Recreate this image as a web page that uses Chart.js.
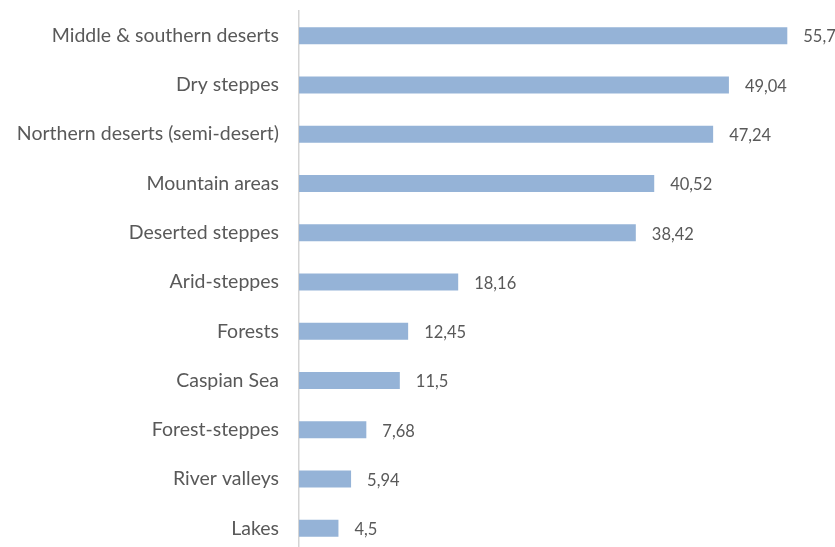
<!DOCTYPE html>
<html>
<head>
<meta charset="utf-8">
<script src="https://cdn.jsdelivr.net/npm/chart.js@4/dist/chart.umd.min.js"></script>
<style>
  html, body { margin: 0; padding: 0; background: #fff; }
  #frame { width: 835px; height: 547px; overflow: hidden; position: relative; }
  #box { width: 835px; height: 553px; position: absolute; left: 0; top: 0; }
</style>
</head>
<body>
<div id="frame"><div id="box"><canvas id="c"></canvas></div></div>
<script>
// Areas (top to bottom) and their values
const categories = [
  'Middle & southern deserts',
  'Dry steppes',
  'Northern deserts (semi-desert)',
  'Mountain areas',
  'Deserted steppes',
  'Arid-steppes',
  'Forests',
  'Caspian Sea',
  'Forest-steppes',
  'River valleys',
  'Lakes'
];
const values = [55.7, 49.04, 47.24, 40.52, 38.42, 18.16, 12.45, 11.5, 7.68, 5.94, 4.5];

const textColor = '#595959';
const fontFamily = 'Lato, "Open Sans", sans-serif';

// Writes each bar's value just past its end, with a decimal comma
const valueLabels = {
  id: 'valueLabels',
  afterDatasetsDraw(chart) {
    const ctx = chart.ctx;
    const meta = chart.getDatasetMeta(0);
    ctx.save();
    ctx.font = '16.5px ' + fontFamily;
    ctx.fillStyle = textColor;
    ctx.textAlign = 'left';
    ctx.textBaseline = 'middle';
    meta.data.forEach((bar, i) => {
      const txt = String(values[i]).replace('.', ',');
      ctx.fillText(txt, bar.x + 16, bar.y + 1.5);
    });
    ctx.restore();
  }
};

new Chart(document.getElementById('c'), {
  type: 'bar',
  data: {
    labels: categories,
    datasets: [{
      data: values,
      backgroundColor: '#95b3d7',
      borderWidth: 0,
      categoryPercentage: 1,
      barPercentage: 0.345
    }]
  },
  options: {
    indexAxis: 'y',
    responsive: true,
    maintainAspectRatio: false,
    animation: false,
    layout: { padding: { top: 11, right: 10, bottom: 0, left: 0 } },
    plugins: { legend: { display: false }, tooltip: { enabled: false } },
    scales: {
      x: {
        display: false,
        min: 0,
        max: 60
      },
      y: {
        afterFit(scale) {
          scale.width = 299;
          scale.paddingTop = 0;
          scale.paddingBottom = 0;
        },
        grid: { display: false, drawTicks: false },
        border: { display: true, color: '#d4d4d4', width: 1.5 },
        ticks: {
          padding: 20,
          color: textColor,
          font: { family: fontFamily, size: 19.5 }
        }
      }
    }
  },
  plugins: [valueLabels]
});
</script>
</body>
</html>
